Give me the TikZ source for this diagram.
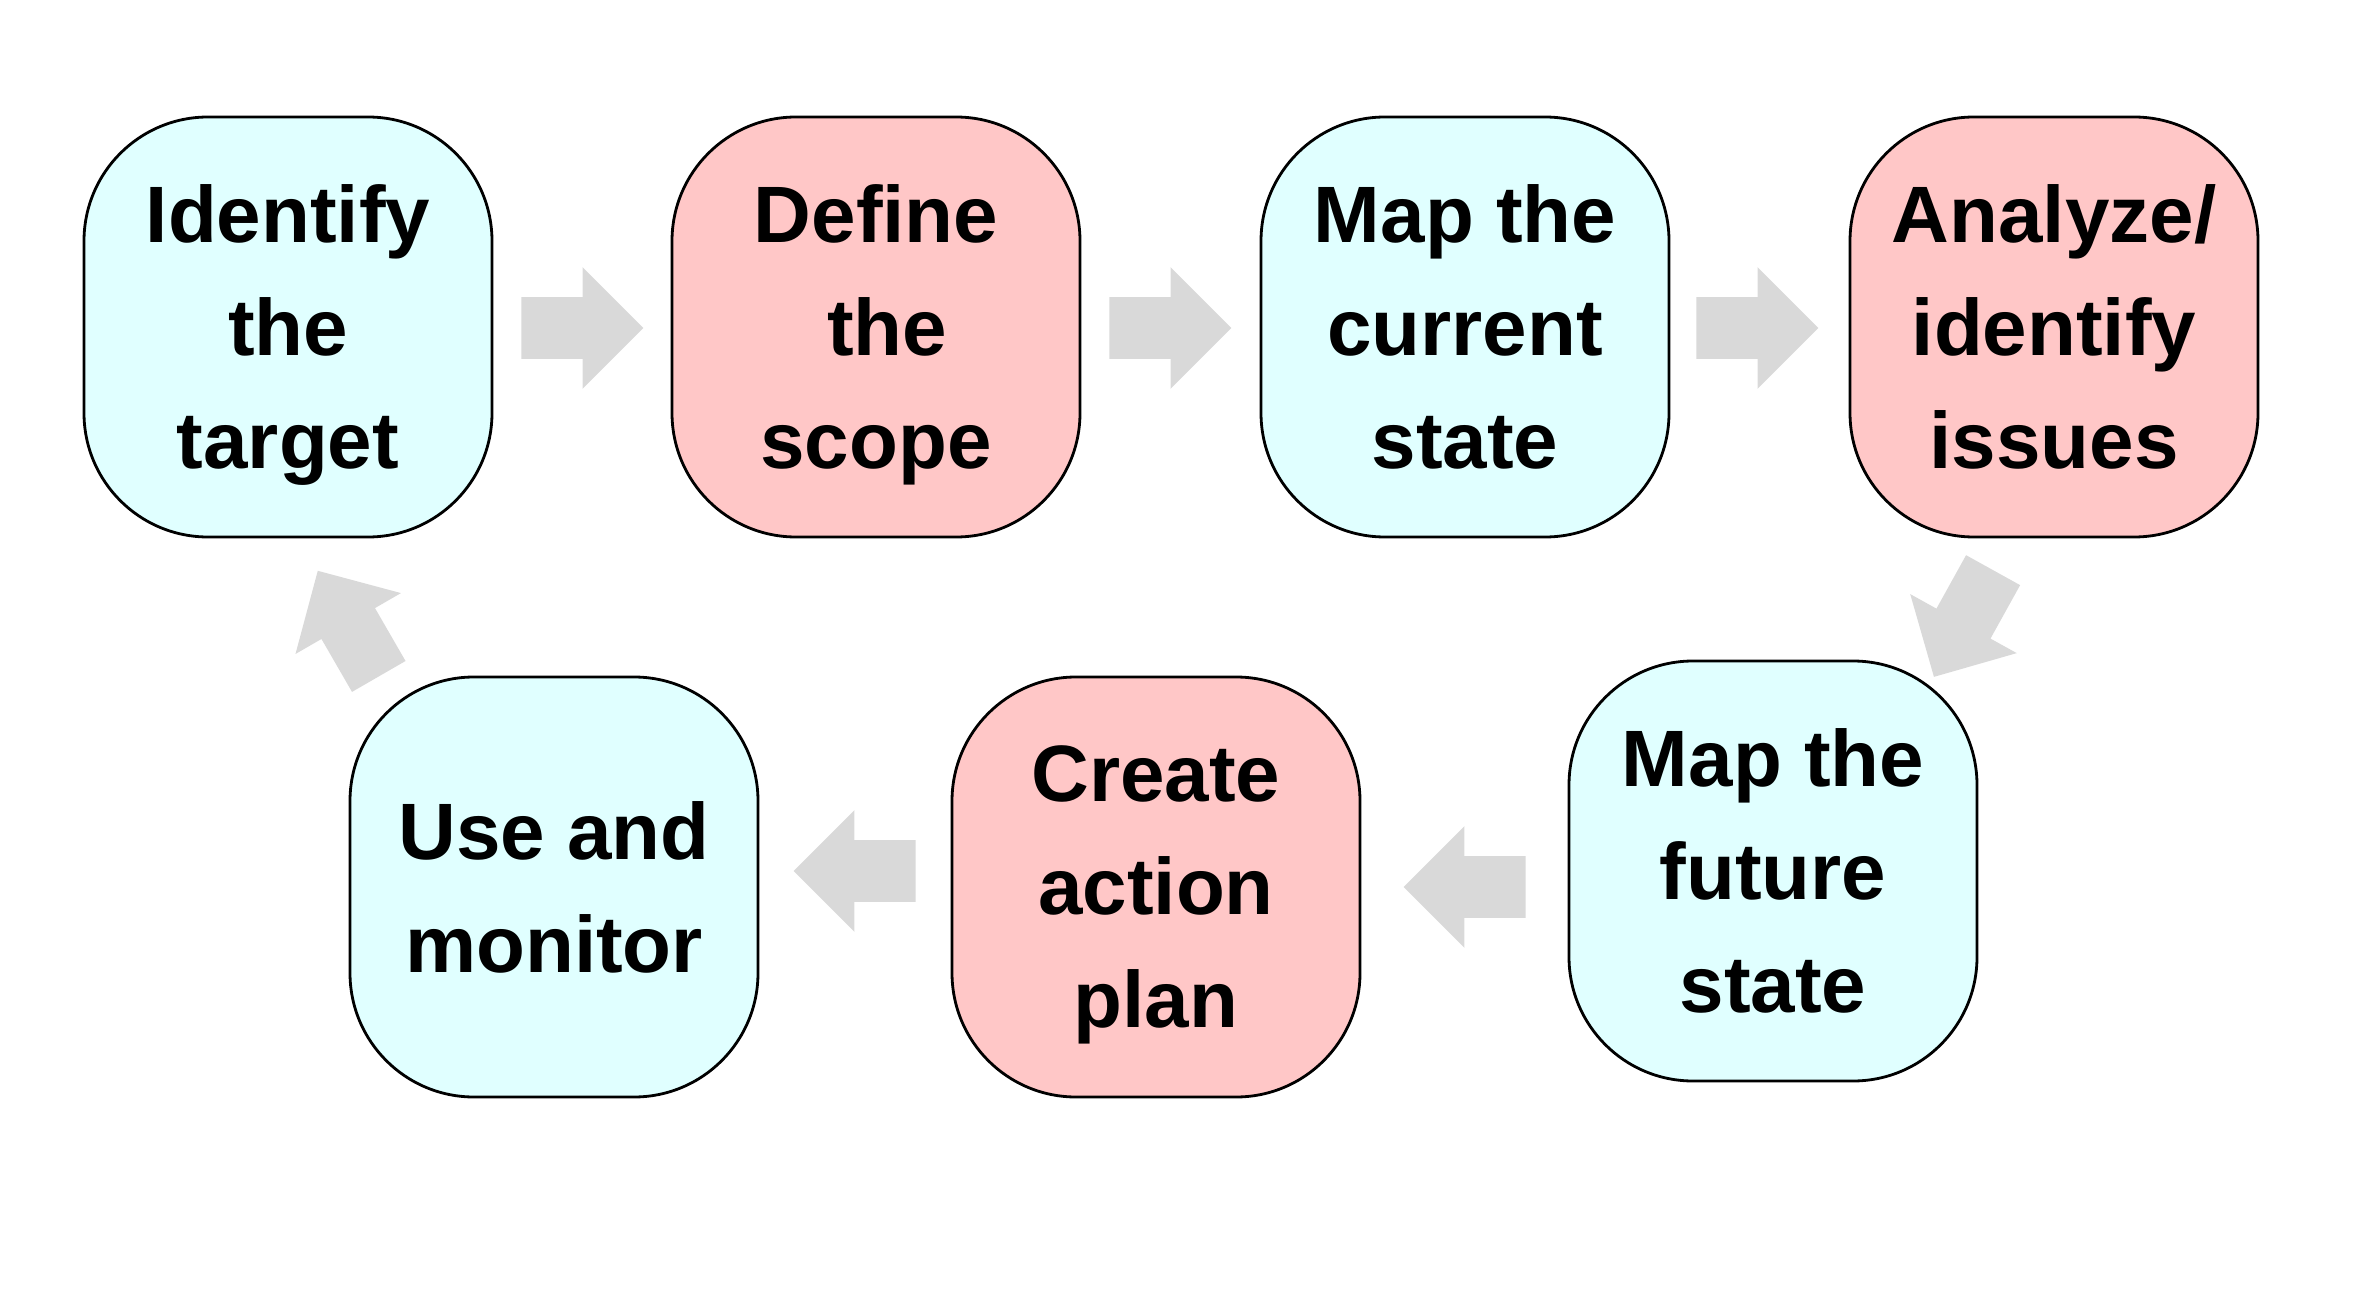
\documentclass[tikz,border=0pt]{standalone}
\usepackage{fontspec}
\setmainfont{Liberation Sans}
\usetikzlibrary{shapes.arrows}
\definecolor{mycyan}{RGB}{224,255,255}
\definecolor{mypink}{RGB}{255,199,199}
\definecolor{mygray}{RGB}{217,217,217}
\tikzset{
  StepBox/.style={draw=black, line width=1.4pt, rounded corners=62pt,
    minimum width=204pt, minimum height=210pt, inner sep=0pt, align=center,
    text depth=0pt, font=\fontsize{40}{56.5}\selectfont\bfseries},
  CyanBox/.style={StepBox, fill=mycyan},
  PinkBox/.style={StepBox, fill=mypink},
  FlowArrow/.style={single arrow, fill=mygray, draw=none, inner sep=0pt,
    inner ysep=15.25pt, single arrow head extend=15pt,
    minimum height=61pt, minimum width=0pt}
}
\begin{document}
\begin{tikzpicture}[x=0.5pt,y=-0.5pt]
\useasboundingbox (0,0) rectangle (2361,1294);
% top row
\node[CyanBox] (target)  at (288,327)  {Identify\\the\\target};
\node[PinkBox] (scope)   at (876,327)  {Define\\\mbox{}\ the\\scope};
\node[CyanBox] (current) at (1465,327) {Map the\\current\\state};
\node[PinkBox] (issues)  at (2054,327) {Analyze/\\identify\\issues};
% bottom row
\node[CyanBox] (future)  at (1773,871) {Map the\\future\\state};
\node[PinkBox] (plan)    at (1156,887) {Create\\action\\plan};
\node[CyanBox] (monitor) at (554,887)  {Use and\\monitor};
% block arrows
\node[FlowArrow] (a1) at (567,328) {};
\node[FlowArrow] (a2) at (1155,328) {};
\node[FlowArrow] (a3) at (1742,328) {};
\node[FlowArrow, rotate=-119] (a4) at (1971,610) {};
\node[FlowArrow, rotate=180] (a5) at (1480,887) {};
\node[FlowArrow, rotate=180] (a6) at (870,871) {};
\node[FlowArrow, rotate=120] (a7) at (356,637) {};
\end{tikzpicture}
\end{document}
